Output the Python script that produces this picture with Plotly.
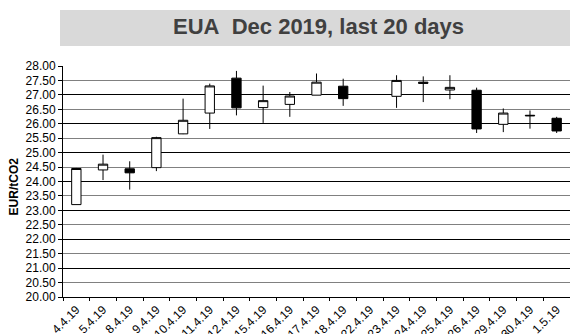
import plotly.graph_objects as go

dates = ["4.4.19", "5.4.19", "8.4.19", "9.4.19", "10.4.19", "11.4.19", "12.4.19",
         "15.4.19", "16.4.19", "17.4.19", "18.4.19", "22.4.19", "23.4.19", "24.4.19",
         "25.4.19", "26.4.19", "29.4.19", "30.4.19", "1.5.19"]
open_ = [23.20, 24.40, 24.44, 24.48, 25.65, 26.37, 27.58, 26.56, 26.67, 26.99, 27.30, None,
         26.95, 27.44, 27.17, 27.16, 25.98, 26.27, 26.19]
high = [24.47, 24.93, 24.70, 25.55, 26.87, 27.39, 27.83, 27.32, 27.10, 27.74, 27.56, None,
        27.68, 27.64, 27.68, 27.25, 26.53, 26.46, 26.24]
low = [23.20, 24.05, 23.72, 24.36, 25.64, 25.82, 26.29, 26.03, 26.24, 26.99, 26.62, None,
       26.55, 26.75, 26.85, 25.68, 25.71, 25.83, 25.68]
close = [24.45, 24.60, 24.30, 25.52, 26.12, 27.31, 26.55, 26.80, 26.96, 27.44, 26.87, None,
         27.50, 27.40, 27.26, 25.82, 26.37, 26.29, 25.75]

title_text = "EUA\u00a0 Dec 2019, last 20 days"
y_title = "EUR/tCO2"

FONT = "Liberation Sans, Arial, sans-serif"

fig = go.Figure()
fig.add_trace(go.Candlestick(
    x=dates, open=open_, high=high, low=low, close=close,
    increasing=dict(fillcolor="white", line=dict(color="black", width=1)),
    decreasing=dict(fillcolor="black", line=dict(color="black", width=1)),
    whiskerwidth=0, showlegend=False, hoverinfo="skip",
))
# invisible trace on overlay axis to carry the whole-number gridlines
fig.add_trace(go.Scatter(x=[dates[0]], y=[None], yaxis="y2", showlegend=False,
                         hoverinfo="skip"))

fig.update_layout(
    width=570, height=334,
    margin=dict(l=63, r=0, t=66, b=37),
    paper_bgcolor="white", plot_bgcolor="white",
    font=dict(family=FONT, color="black"),
    boxgap=0.5,
    xaxis=dict(
        type="category", categoryorder="array", categoryarray=dates,
        rangeslider=dict(visible=False), automargin=False,
        tickson="boundaries", ticks="outside", ticklen=3, tickcolor="black",
        showline=True, linecolor="black", linewidth=1,
        showgrid=False, tickangle=-45, tickfont=dict(size=12, family=FONT),
        range=[-0.5, len(dates) - 0.5],
    ),
    yaxis=dict(
        range=[20, 28], dtick=0.5, tick0=20, tickformat=".2f", automargin=False,
        showgrid=True, gridcolor="#808080", gridwidth=1,
        showline=True, linecolor="black", linewidth=1,
        ticks="outside", ticklen=4, tickcolor="black",
        tickfont=dict(size=12, family=FONT), zeroline=False,
    ),
    yaxis2=dict(
        range=[20, 28], dtick=1, tick0=20, overlaying="y", side="left",
        showgrid=True, gridcolor="black", gridwidth=1, automargin=False,
        showticklabels=False, showline=False, zeroline=False, ticks="",
    ),
    shapes=[dict(type="rect", xref="paper", yref="paper",
                 x0=-0.0059, x1=1.0, y0=1.0866, y1=1.2424,
                 fillcolor="#d9d9d9", line=dict(width=0), layer="below")],
    annotations=[
        dict(text="<b>" + title_text + "</b>", xref="paper", yref="paper",
             x=0.503, y=1.17, xanchor="center", yanchor="middle",
             showarrow=False, font=dict(size=22, color="#404040", family=FONT)),
        dict(text="<b>" + y_title + "</b>", xref="paper", yref="paper",
             x=-0.097, y=0.478, xanchor="center", yanchor="middle", textangle=-90,
             showarrow=False, font=dict(size=12, color="black", family=FONT)),
    ],
)

fig.write_html("out.html",
               config={"displayModeBar": False},
               post_script="document.body.style.margin='0';"
                           "document.body.style.overflow='hidden';")
